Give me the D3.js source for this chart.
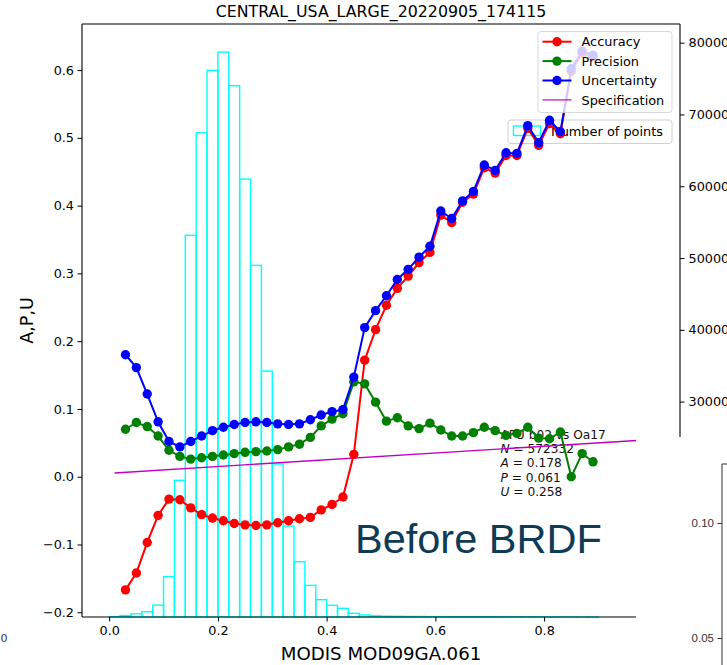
<!DOCTYPE html>
<html><head><meta charset="utf-8">
<script src="https://cdn.jsdelivr.net/npm/d3@7"></script>
<style>
body{margin:0;background:#fff;}
svg{display:block;font-family:"DejaVu Sans",sans-serif;}
</style></head><body>
<svg id="c" width="727" height="665"></svg>
<script>
// ---------- data ----------
const refl = [0.03,0.05,0.07,0.09,0.11,0.13,0.15,0.17,0.19,0.21,0.23,0.25,0.27,0.29,0.31,0.33,0.35,0.37,0.39,0.41,0.43,0.45,0.47,0.49,0.51,0.53,0.55,0.57,0.59,0.61,0.63,0.65,0.67,0.69,0.71,0.73,0.75,0.77,0.79,0.81,0.83,0.85,0.87,0.89];
const accuracy = [-0.167,-0.142,-0.097,-0.057,-0.033,-0.034,-0.046,-0.056,-0.061,-0.065,-0.069,-0.071,-0.072,-0.071,-0.068,-0.065,-0.062,-0.060,-0.049,-0.041,-0.030,0.033,0.172,0.217,0.253,0.278,0.296,0.316,0.331,0.386,0.375,0.405,0.417,0.456,0.448,0.474,0.474,0.514,0.489,0.521,0.506,0.598,0.625,0.619];
const precision = [0.070,0.080,0.074,0.060,0.039,0.030,0.026,0.028,0.030,0.032,0.034,0.036,0.037,0.038,0.040,0.044,0.048,0.058,0.075,0.085,0.093,0.140,0.137,0.110,0.082,0.087,0.075,0.071,0.079,0.069,0.060,0.060,0.065,0.073,0.068,0.061,0.064,0.073,0.057,0.056,0.066,0.000,0.034,0.022];
const uncertainty = [0.180,0.161,0.122,0.081,0.052,0.044,0.052,0.060,0.068,0.073,0.077,0.080,0.081,0.080,0.078,0.077,0.078,0.084,0.091,0.096,0.099,0.147,0.220,0.245,0.267,0.291,0.306,0.324,0.340,0.392,0.381,0.407,0.421,0.460,0.452,0.478,0.477,0.518,0.493,0.526,0.509,0.602,0.628,0.622];
const specX = [0.01, 1.0];
const specY = [0.0055, 0.055];
const binStart = [0.00,0.02,0.04,0.06,0.08,0.10,0.12,0.14,0.16,0.18,0.20,0.22,0.24,0.26,0.28,0.30,0.32,0.34,0.36,0.38,0.40,0.42,0.44,0.46,0.48,0.50,0.52,0.54,0.56,0.58,0.60,0.62,0.64,0.66,0.68,0.70,0.72,0.74,0.76,0.78,0.80,0.82,0.84,0.86,0.88];
const binCount = [50,200,450,740,1650,5610,19040,53160,67450,76140,78690,74000,61000,48980,34260,21310,12670,7700,4410,2410,1620,1210,515,280,160,110,90,80,70,60,55,50,45,40,40,35,30,25,20,20,15,10,10,5,5];
const binWidth = 0.02;
const xTicks = [0.0,0.2,0.4,0.6,0.8,1.0];
const yTicks = [-0.2,-0.1,0.0,0.1,0.2,0.3,0.4,0.5,0.6];
const y2Ticks = [0,10000,20000,30000,40000,50000,60000,70000,80000];
const panelTicks = [0.05,0.10];
const legendNames = ["Accuracy","Precision","Uncertainty","Specification"];
const statsLines = ["AFU b02 vs Oa17"];
const statsVals = [["N","572332"],["A ","0.178"],["P","0.061"],["U","0.258"]];
const titleText = "CENTRAL_USA_LARGE_20220905_174115";

// ---------- layout ----------
const L = 82, R = 680, T = 24, B = 617;
const svg = d3.select("#c");
const x = d3.scaleLinear().domain([-0.05, 1.05]).range([L, R]);
const y = d3.scaleLinear().domain([-0.207, 0.668]).range([B, T]);
const y2 = d3.scaleLinear().domain([0, 82600]).range([B, T]);
const fmt1 = d3.format(".1f");

// histogram (twin axis, behind)
const gh = svg.append("g");
gh.selectAll("rect").data(binStart).join("rect")
  .attr("x", (d) => x(d))
  .attr("width", (d) => x(d + binWidth) - x(d))
  .attr("y", (d,i) => y2(binCount[i]))
  .attr("height", (d,i) => y2(0) - y2(binCount[i]))
  .attr("fill", "none").attr("stroke", "#00ffff").attr("stroke-width", 1.4);

// legend 2
const lg2 = svg.append("g");
lg2.append("rect").attr("x",508).attr("y",120).attr("width",164).attr("height",23.5).attr("rx",3)
  .attr("fill","#fff").attr("fill-opacity",0.8).attr("stroke","#d0d0d0");
lg2.append("rect").attr("x",513.5).attr("y",126).attr("width",27).attr("height",9.5)
  .attr("fill","none").attr("stroke","#00ffff").attr("stroke-width",1.4);
lg2.append("text").attr("x",551).attr("y",136).attr("font-size",12.9).text("Number of points");

// stats text
const st = svg.append("g").attr("font-size",12.2).attr("fill","#111");
st.append("text").attr("x",500.5).attr("y",438.5).text(statsLines[0]);
statsVals.forEach((d,i) => {
  const t = st.append("text").attr("x",500.5).attr("y",453 + i*14.4);
  t.append("tspan").attr("font-style","italic").text(d[0]);
  t.append("tspan").text(" = " + d[1]);
});

// spec line + series
const line = d3.line().x((d) => x(d[0])).y((d) => y(d[1]));
svg.append("path").attr("d", line(specX.map((v,i)=>[v,specY[i]])))
  .attr("fill","none").attr("stroke","#bf00bf").attr("stroke-width",1.4);
const series = [[accuracy,"#ff0000"],[precision,"#008000"],[uncertainty,"#0000ff"]];
series.forEach(([vals,col]) => {
  const pts = refl.map((v,i)=>[v, vals[i]]);
  const g = svg.append("g");
  g.append("path").attr("d", line(pts)).attr("fill","none").attr("stroke",col).attr("stroke-width",2);
  g.selectAll("circle").data(pts).join("circle")
    .attr("cx",(d)=>x(d[0])).attr("cy",(d)=>y(d[1])).attr("r",4.7).attr("fill",col);
});

// legend 1
const lg = svg.append("g");
lg.append("rect").attr("x",538).attr("y",31.5).attr("width",134).attr("height",81).attr("rx",3)
  .attr("fill","#fff").attr("fill-opacity",0.8).attr("stroke","#d0d0d0").attr("stroke-opacity",0.8);
const lcols = ["#ff0000","#008000","#0000ff","#bf00bf"];
legendNames.forEach((n,i) => {
  const cy = 41.7 + i*19.4;
  lg.append("line").attr("x1",542.5).attr("x2",571.5).attr("y1",cy).attr("y2",cy)
    .attr("stroke",lcols[i]).attr("stroke-width", i===3 ? 1.2 : 2);
  if (i < 3) lg.append("circle").attr("cx",557).attr("cy",cy).attr("r",4.7).attr("fill",lcols[i]);
  lg.append("text").attr("x",581.5).attr("y",cy+4.6).attr("font-size",12.9).text(n);
});

// axes
function styleAxis(g, fs){
  g.select(".domain").remove();
  g.selectAll(".tick line").attr("stroke","#000").attr("stroke-width",1);
  g.selectAll(".tick text").attr("font-size",fs).attr("fill","#000").attr("font-family","DejaVu Sans");
}
const ax = svg.append("g").attr("transform",`translate(0,${B})`)
  .call(d3.axisBottom(x).tickValues(xTicks).tickFormat(fmt1).tickSize(4.5).tickPadding(4));
styleAxis(ax, 12.8);
const ay = svg.append("g").attr("transform",`translate(${L},0)`)
  .call(d3.axisLeft(y).tickValues(yTicks).tickFormat(fmt1).tickSize(4.5).tickPadding(3.5));
styleAxis(ay, 12.8);
const ay2 = svg.append("g").attr("transform",`translate(${R},0)`)
  .call(d3.axisRight(y2).tickValues(y2Ticks).tickFormat(d3.format("d")).tickSize(4.5).tickPadding(4));
styleAxis(ay2, 12.8);

// spines
const sp = svg.append("g").attr("stroke","#000").attr("stroke-width",1.1).attr("fill","none");
sp.append("line").attr("x1",L).attr("x2",R).attr("y1",T).attr("y2",T);
sp.append("line").attr("x1",L).attr("x2",L).attr("y1",T).attr("y2",B);
sp.append("line").attr("x1",R).attr("x2",R).attr("y1",T).attr("y2",B);
sp.append("line").attr("x1",L).attr("x2",R).attr("y1",B).attr("y2",B);

// labels
svg.append("text").attr("x",(L+R)/2).attr("y",16.5).attr("text-anchor","middle").attr("font-size",15.8).text(titleText);
svg.append("text").attr("x",(L+R)/2).attr("y",659.5).attr("text-anchor","middle").attr("font-size",18.2).text("MODIS MOD09GA.061");
svg.append("text").attr("transform",`translate(32.5,${(T+B)/2}) rotate(-90)`).attr("text-anchor","middle").attr("font-size",17.6).text("A,P,U");

// overlapping neighbour panel (bottom right) and clipped neighbour label (bottom left)
svg.append("rect").attr("x",636).attr("y",437).attr("width",91).attr("height",228).attr("fill","#fff");
const py = d3.scaleLinear().domain([0.05,0.10]).range([638,523]);
const pg = svg.append("g").attr("transform","translate(722,0)")
  .call(d3.axisLeft(py).tickValues(panelTicks).tickFormat(d3.format(".2f")).tickSize(4.5).tickPadding(3.5));
pg.select(".domain").remove();
pg.selectAll(".tick line").attr("stroke","#333");
pg.selectAll(".tick text").attr("font-size",11.5).attr("fill","#333");
svg.append("line").attr("x1",722).attr("x2",722).attr("y1",464).attr("y2",665).attr("stroke","#333");
svg.append("line").attr("x1",722).attr("x2",727).attr("y1",464).attr("y2",464).attr("stroke","#333");
svg.append("text").attr("x",7.5).attr("y",641.5).attr("text-anchor","end").attr("font-size",11).attr("fill","#333").text("0");

// overlay annotation
svg.append("text").attr("x",355).attr("y",552.5).attr("font-family","Liberation Sans, Arial, sans-serif")
  .attr("font-size",41.5).attr("fill","#0e3b55").text("Before BRDF");
</script>
</body></html>
